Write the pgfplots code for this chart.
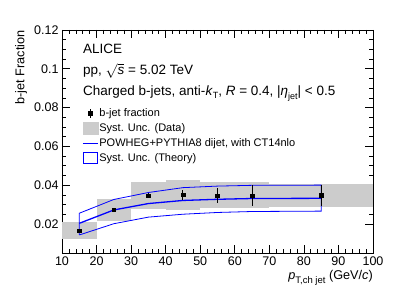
\documentclass[border=0pt]{standalone}
\usepackage{fontspec}
\setmainfont{Liberation Sans}
\usepackage{pgfplots}
\usepackage{pgfplotstable}
\pgfplotsset{compat=1.18}
\definecolor{sysgray}{RGB}{204,204,204}
\pgfplotstableread{
x y e
15 0.0164 0.0008
25 0.0273 0.0008
35 0.0345 0.0012
45 0.0350 0.0025
55 0.0346 0.0037
65 0.0346 0.0056
85 0.0348 0.0055
}\datatab
\pgfplotstableread{
x c u l
15 0.0203 0.0255 0.0143
25 0.0272 0.0326 0.0201
35 0.0305 0.0362 0.0235
45 0.0321 0.0387 0.0250
55 0.0327 0.0395 0.0259
65 0.0331 0.0399 0.0264
85 0.0332 0.0400 0.0266
}\theorytab
\begin{document}
\begin{tikzpicture}
\useasboundingbox (-62pt,-47pt) rectangle (353pt,253pt);
\begin{axis}[
 scale only axis, width=311pt, height=223pt,
 xmin=10, xmax=100, ymin=0.005, ymax=0.12,
 xtick={10,20,...,100}, ytick={0.02,0.04,0.06,0.08,0.1,0.12},
 minor x tick num=4, minor y tick num=3,
 major tick length=8pt, minor tick length=4pt,
 tick style={black, line width=0.6pt},
 axis line style={line width=0.8pt},
 scaled y ticks=false,
 yticklabel style={/pgf/number format/fixed, /pgf/number format/precision=2},
 /pgf/number format/assume math mode=true,
 tick label style={font=\fontsize{12.5}{14}\selectfont},
 xlabel={\textit{p}\raisebox{-4pt}{\fontsize{9.5}{10}\selectfont T,ch jet} (GeV/\textit{c})},
 ylabel={b-jet Fraction},
 label style={font=\fontsize{12.7}{15}\selectfont, inner sep=0pt},
 xlabel style={at={(axis description cs:1,0)}, anchor=base east, yshift=-26pt},
 ylabel style={at={(axis description cs:-0.1116,1)}, anchor=south east},
 legend style={draw=none, fill=none, inner sep=0pt, at={(axis description cs:0.0643,0.655)}, anchor=north west,
   font=\fontsize{11}{12}\selectfont, row sep=2.5pt,
   nodes={inner sep=1pt, text height=8pt, text depth=2.5pt},
   /tikz/every even column/.append style={column sep=2pt}},
 legend cell align=left,
]
\addlegendimage{legend image code/.code={\draw[black,line width=0.9pt] (7.5pt,-4.5pt)--(7.5pt,4.5pt); \fill[black] (5.7pt,-1.8pt) rectangle (9.3pt,1.8pt);}}
\addlegendentry{b-jet fraction}
\addlegendimage{legend image code/.code={\fill[sysgray] (0pt,-6pt) rectangle (15pt,6pt);}}
\addlegendentry{Syst. Unc. (Data)}
\addlegendimage{legend image code/.code={\draw[blue,line width=1.2pt] (0pt,0pt)--(15pt,0pt);}}
\addlegendentry{POWHEG+PYTHIA8 dijet, with CT14nlo}
\addlegendimage{legend image code/.code={\draw[blue,line width=1pt] (0.5pt,-5.5pt) rectangle (14.5pt,5.5pt);}}
\addlegendentry{Syst. Unc. (Theory)}
% data systematic boxes
\addplot[fill=sysgray, draw=none, forget plot] coordinates {(10,0.0122) (20,0.0122) (20,0.0208) (10,0.0208)};
\addplot[fill=sysgray, draw=none, forget plot] coordinates {(20,0.0217) (30,0.0217) (30,0.0329) (20,0.0329)};
\addplot[fill=sysgray, draw=none, forget plot] coordinates {(30,0.0278) (40,0.0278) (40,0.0414) (30,0.0414)};
\addplot[fill=sysgray, draw=none, forget plot] coordinates {(40,0.0272) (50,0.0272) (50,0.0424) (40,0.0424)};
\addplot[fill=sysgray, draw=none, forget plot] coordinates {(50,0.0281) (60,0.0281) (60,0.0418) (50,0.0418)};
\addplot[fill=sysgray, draw=none, forget plot] coordinates {(60,0.0281) (70,0.0281) (70,0.0418) (60,0.0418)};
\addplot[fill=sysgray, draw=none, forget plot] coordinates {(70,0.0286) (100,0.0286) (100,0.0407) (70,0.0407)};
% theory band outline
\addplot[blue, line width=0.8pt, forget plot] coordinates {(15,0.0143) (15,0.0255) (25,0.0326) (35,0.0362) (45,0.0387) (55,0.0395) (65,0.0399) (85,0.0400) (85,0.0266) (65,0.0264) (55,0.0259) (45,0.0250) (35,0.0235) (25,0.0201) (15,0.0143)};
% theory central
\addplot[blue, line width=1.3pt, forget plot] table[x=x, y=c] {\theorytab};
% data
\addplot[black, only marks, mark=square*, mark size=1.8pt, forget plot,
  error bars/.cd, y dir=both, y explicit, error mark=none, error bar style={line width=1pt}]
  table[x=x, y=y, y error=e] {\datatab};
\end{axis}
\node[anchor=base west, inner sep=0pt, font=\fontsize{13.5}{15}\selectfont] at (21pt,199pt) {ALICE};
\node[anchor=base west, inner sep=0pt, font=\fontsize{13.5}{15}\selectfont] at (21pt,178pt) {pp, \smash{$\sqrt{\mbox{\textit{s}}}$} = 5.02 TeV};
\node[anchor=base west, inner sep=0pt, font=\fontsize{13.5}{15}\selectfont] at (21pt,157pt) {Charged b-jets, anti-\textit{k}\raisebox{-2.5pt}{\fontsize{9}{10}\selectfont T}, \textit{R} = 0.4, |\textit{η}\raisebox{-4pt}{\fontsize{9}{10}\selectfont jet}| < 0.5};
\end{tikzpicture}
\end{document}
